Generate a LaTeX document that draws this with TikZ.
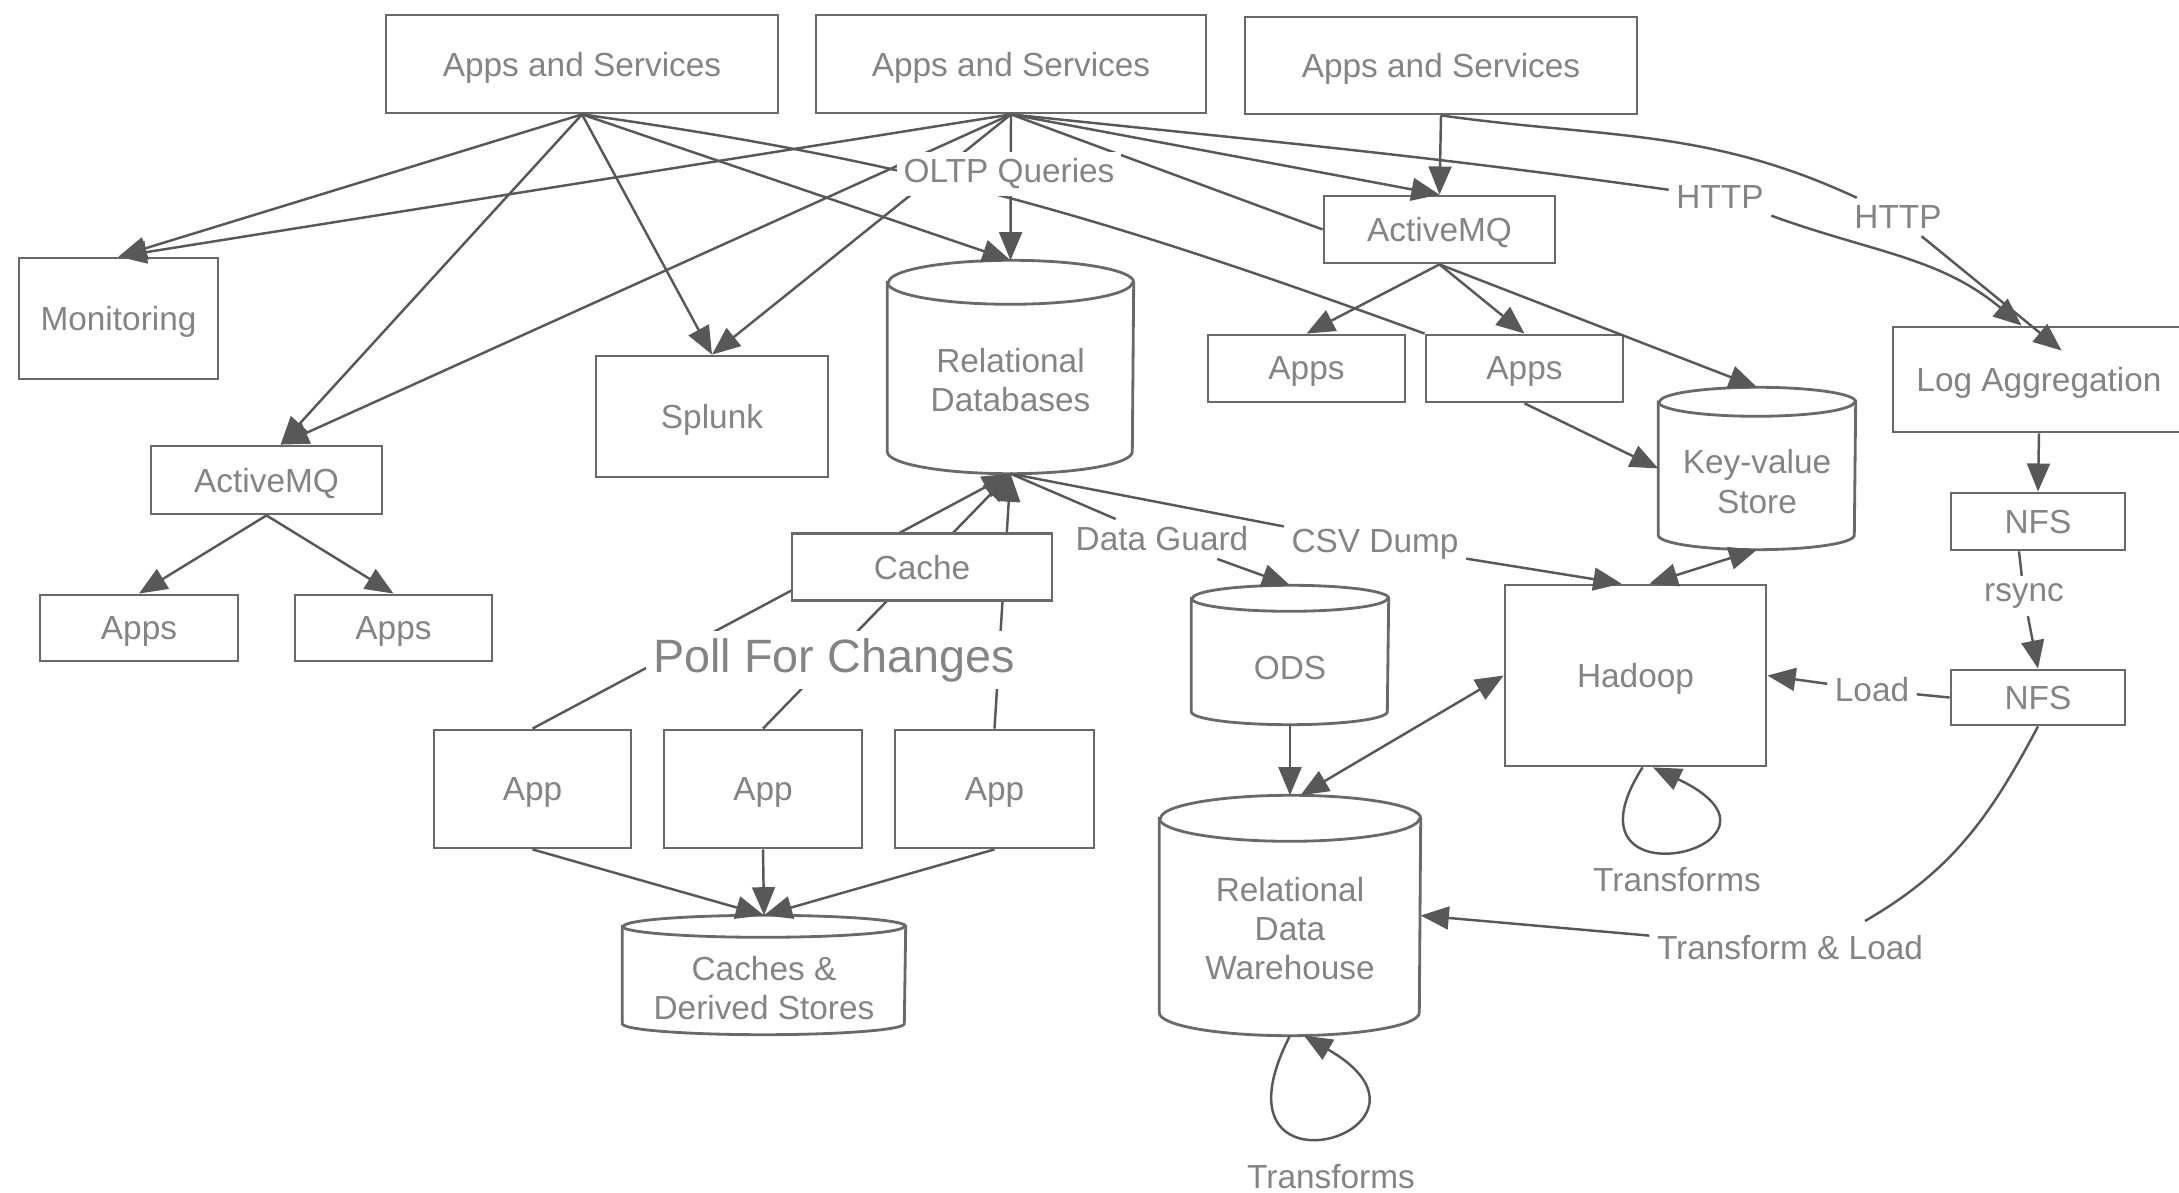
\documentclass[tikz,border=0pt]{standalone}
\usepackage{fontspec}
\setmainfont{Liberation Sans}
\usepackage{tikz}
\usetikzlibrary{calc,arrows.meta}

\definecolor{linegray}{RGB}{88,88,88}
\definecolor{boxgray}{RGB}{105,105,105}
\definecolor{textgray}{RGB}{132,132,132}

\tikzset{
  box/.style 2 args={draw=boxgray, line width=0.8pt, fill=white, align=center,
    inner sep=0pt, text depth=0pt, minimum width=#1cm, minimum height=#2cm},
  dbbox/.style={inner sep=0pt},
  dbtext/.style={align=center, inner sep=0pt},
  lbl/.style={fill=white, inner sep=2pt},
  link/.style={draw=linegray, line width=0.7pt},
  arr/.style={link, -{Triangle[length=8pt,width=6.5pt]}},
  twoway/.style={link, {Triangle[length=8pt,width=6.5pt]}-{Triangle[length=8pt,width=6.5pt]}},
}

% cylinder: name, x, y, width, height, cap radius, text
\newcommand{\dbnode}[7]{%
  \node[dbbox, minimum width=#4cm, minimum height=#5cm] (#1) at (#2,#3) {};
  \draw[draw=boxgray, line width=0.8pt, fill=white]
    ($(#1.north west)+(0,-#6)$) -- ($(#1.south west)+(0,#6)$)
    arc[start angle=180, end angle=360, x radius=#4cm/2, y radius=#6cm]
    -- ($(#1.north east)+(0,-#6)$)
    arc[start angle=0, end angle=180, x radius=#4cm/2, y radius=#6cm] -- cycle;
  \draw[draw=boxgray, line width=0.8pt] ($(#1.north west)+(0,-#6)$)
    arc[start angle=180, end angle=360, x radius=#4cm/2, y radius=#6cm];
  \node[dbtext] at ([yshift=-0.13cm]#1.center) {#7};
}

\begin{document}
\begin{tikzpicture}[every node/.style={text=textgray}, font=\fontsize{9.5}{11.2}\selectfont]
    \useasboundingbox (0,0) rectangle (21.79,-11.93);

    \node[box={3.92}{0.98}] (as1) at (5.82,-0.64) {Apps and Services};
    \node[box={3.90}{0.98}] (as2) at (10.11,-0.64) {Apps and Services};
    \node[box={3.92}{0.97}] (as3) at (14.41,-0.655) {Apps and Services};

    \node[box={1.99}{1.21}] (mon) at (1.185,-3.185) {Monitoring};
    \node[box={2.32}{1.21}] (splunk) at (7.12,-4.165) {Splunk};
    \dbnode{reldb}{10.105}{-3.67}{2.45}{2.12}{0.22}{Relational\\Databases}
    \node[box={2.31}{0.68}] (amq1) at (2.665,-4.80) {ActiveMQ};
    \node[box={1.98}{0.66}] (apps1) at (1.39,-6.28) {Apps};
    \node[box={1.97}{0.66}] (apps2) at (3.935,-6.28) {Apps};

    \node[box={2.31}{0.67}] (amq2) at (14.395,-2.295) {ActiveMQ};
    \node[box={1.97}{0.67}] (apps3) at (13.065,-3.685) {Apps};
    \node[box={1.97}{0.67}] (apps4) at (15.245,-3.685) {Apps};
    \dbnode{kv}{17.57}{-4.685}{1.96}{1.61}{0.145}{Key-value\\Store}
    \node[box={2.92}{1.05}] (log) at (20.39,-3.795) {Log Aggregation};
    \node[box={1.74}{0.57}] (nfs1) at (20.38,-5.215) {NFS};
    \node[box={1.74}{0.55}] (nfs2) at (20.38,-6.975) {NFS};

    \node[box={2.61}{1.81}] (hadoop) at (16.355,-6.755) {Hadoop};
    \dbnode{ods}{12.90}{-6.55}{1.96}{1.38}{0.13}{ODS}
    \dbnode{rdw}{12.90}{-9.155}{2.60}{2.39}{0.23}{Relational\\Data\\Warehouse}

    \node[box={1.97}{1.18}] (app1) at (5.325,-7.89) {App};
    \node[box={1.98}{1.18}] (app2) at (7.63,-7.89) {App};
    \node[box={1.99}{1.18}] (app3) at (9.945,-7.89) {App};
    \dbnode{cds}{7.64}{-9.75}{2.82}{1.18}{0.11}{Caches \&\\Derived Stores}

    \node[lbl] (http1) at (17.20,-1.97) {HTTP};
    \node[lbl] (http2) at (18.98,-2.17) {HTTP};
    \node[lbl] (dg) at (11.62,-5.39) {Data Guard};
    \node[lbl] (csv) at (13.75,-5.44) {CSV Dump};
    \node[lbl] (rsync) at (20.24,-5.96) {rsync};
    \node[lbl] (load) at (18.72,-6.90) {Load};
    \node[lbl] (tl) at (17.90,-9.48) {Transform \& Load};
    \node (tr1) at (16.77,-8.80) {Transforms};
    \node (tr2) at (13.31,-11.77) {Transforms};

    % apps and services
    \draw[arr] (as1.south) -- (mon.north);
    \draw[arr] (as1.south) -- ([xshift=4pt]amq1.north);
    \draw[arr] (as1.south) -- (splunk.north);
    \draw[arr] (as1.south) -- (reldb.north);
    \draw[link] (as1.south) to[out=-8,in=160] (apps4.north west);
    \draw[arr] (as2.south) -- (mon.north);
    \draw[arr] (as2.south) -- ([xshift=4pt]amq1.north);
    \draw[arr] (as2.south) -- (splunk.north);
    \draw[arr] (as2.south) -- (reldb.north);
    \draw[link] (as2.south) -- (amq2.west);
    \draw[arr] (as2.south) -- (amq2.north);
    \draw[link] (as2.south) to[out=-6,in=172] (http1);
    \draw[arr] (http1) to[out=-20,in=140] ([xshift=1.3cm]log.north west);
    \draw[arr] (as3.south) -- (amq2.north);
    \draw[link] (as3.south) to[out=-8,in=155] (http2);
    \draw[arr] (http2) -- ($(log.north west)+(1.7,-0.25)$);

    \draw[arr] (amq1.south) -- (apps1.north);
    \draw[arr] (amq1.south) -- (apps2.north);
    \draw[arr] (amq2.south) -- (apps3.north);
    \draw[arr] (amq2.south) -- (apps4.north);
    \draw[arr] (amq2.south) -- (kv.north);
    \draw[arr] (apps4.south) -- (kv.west);

    \draw[arr] (app1.north) -- (reldb.south);
    \draw[arr] (app2.north) -- (reldb.south);
    \draw[arr] (app3.north) -- (reldb.south);
    \draw[arr] (app1.south) -- (cds.north);
    \draw[arr] (app2.south) -- (cds.north);
    \draw[arr] (app3.south) -- (cds.north);

    \draw[link] (reldb.south) -- (dg);
    \draw[arr] (dg) -- (ods.north);
    \draw[link] (reldb.south) -- (csv);
    \draw[arr] (csv) -- ([xshift=-4pt]hadoop.north);
    \draw[twoway] ([xshift=4pt]hadoop.north) -- (kv.south);
    \draw[arr] (ods.south) -- (rdw.north);
    \draw[twoway] (hadoop.west) -- ([xshift=3pt]rdw.north);

    \draw[arr] (log.south) -- (nfs1.north);
    \draw[link] ([xshift=-0.19cm]nfs1.south) -- (rsync);
    \draw[arr] (rsync) -- (nfs2.north);
    \draw[link] (nfs2.west) -- (load);
    \draw[arr] (load) -- (hadoop.east);
    \draw[link] (nfs2.south) to[out=-118,in=30] ([xshift=0.75cm,yshift=2pt]tl.north);
    \draw[arr] (tl) -- (rdw.east);

    % transforms
    \draw[arr] ([xshift=2pt]hadoop.south) .. controls +(-0.92,-1.44) and +(1.67,-0.79) .. ([xshift=5pt]hadoop.south);
    \draw[arr] (rdw.south) .. controls +(-0.9,-1.75) and +(1.65,-0.95) .. ([xshift=4pt]rdw.south);

    % drawn last, over the lines
    \node[box={2.60}{0.67}] (cache) at (9.22,-5.67) {Cache};
    \node[lbl, font=\fontsize{13.3}{15}\selectfont] (poll) at (8.34,-6.60) {Poll For Changes};
    \node[lbl] (oltp) at (10.09,-1.74) {OLTP Queries};
\end{tikzpicture}
\end{document}
